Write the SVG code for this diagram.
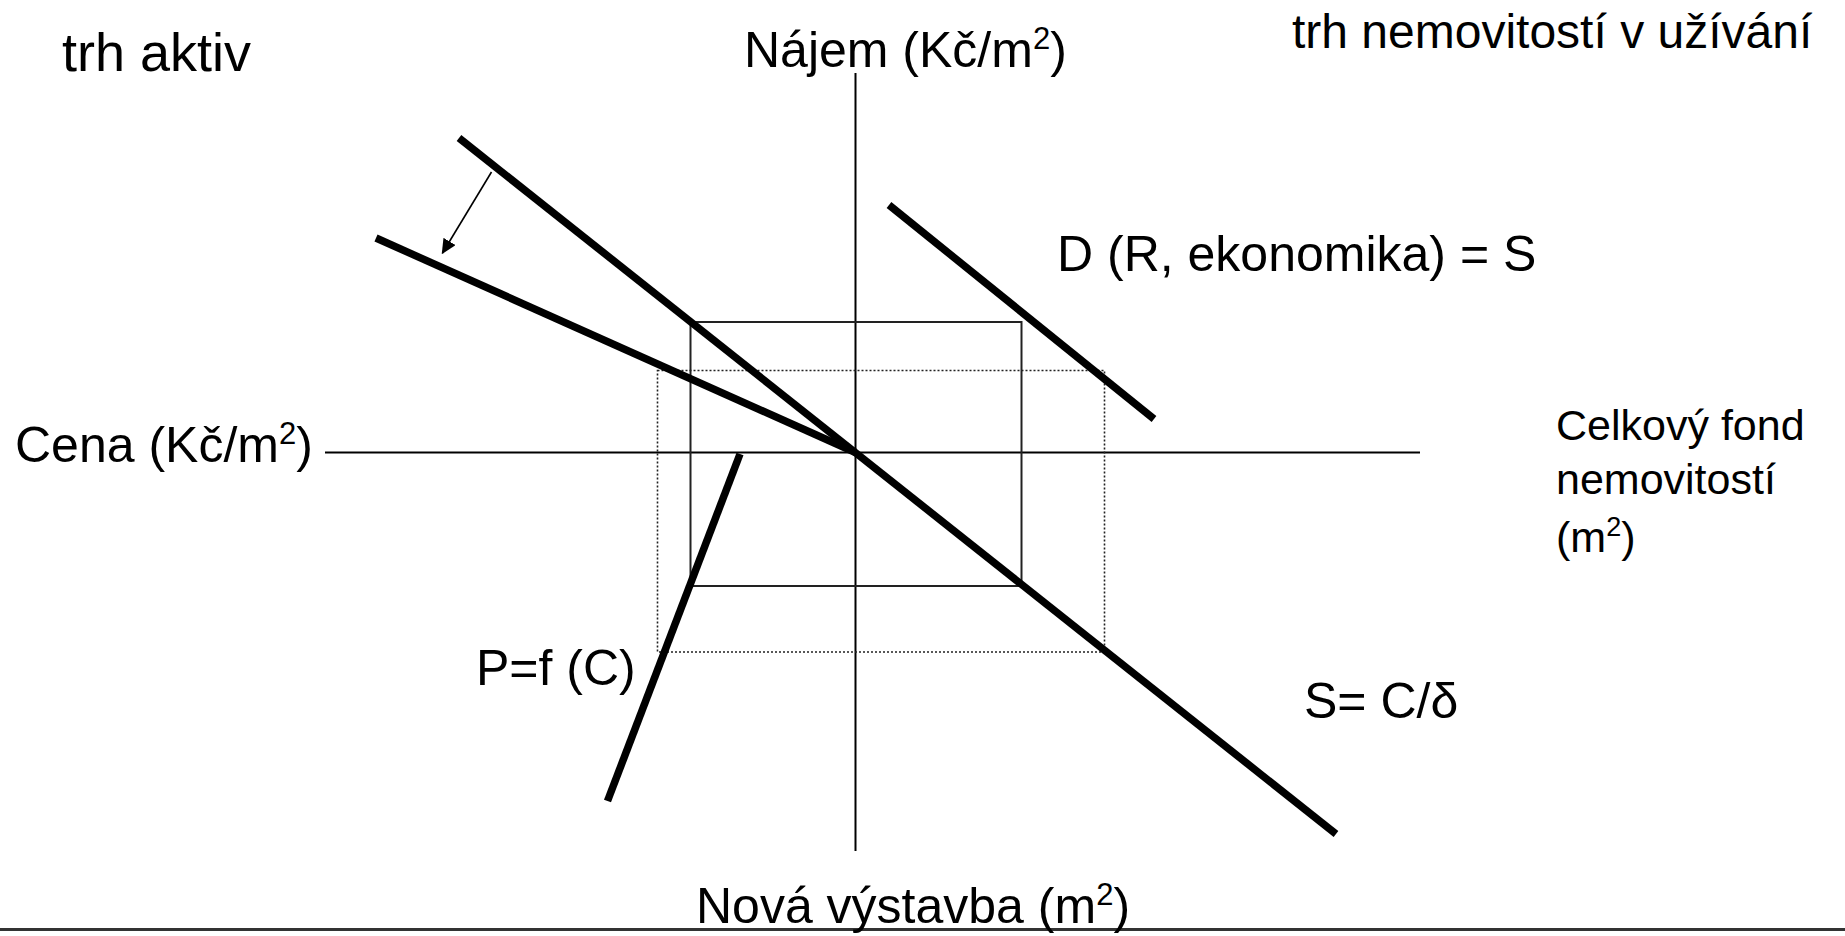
<svg xmlns="http://www.w3.org/2000/svg" width="1845" height="936" viewBox="0 0 1845 936">
  <style>
    text { font-family: "Liberation Sans", Arial, sans-serif; fill: #000; }
    .axis { stroke: #000; stroke-width: 2; fill: none; }
    .thick { stroke: #000; stroke-width: 7.5; fill: none; }
    .box { stroke: #222; stroke-width: 2; fill: none; }
    .dot { stroke: #222; stroke-width: 1.6; fill: none; stroke-dasharray: 2 2; }
    .thin { stroke: #000; stroke-width: 1.6; fill: none; }
  </style>
  <defs>
    <marker id="ah" viewBox="0 0 10 10" refX="9" refY="5" markerWidth="15" markerHeight="14" markerUnits="userSpaceOnUse" orient="auto" preserveAspectRatio="none">
      <path d="M0,0 L10,5 L0,10 z" fill="#000"/>
    </marker>
  </defs>
  <rect width="1845" height="936" fill="#fff"/>

  <g id="connectors">
    <line class="axis" x1="855.5" y1="73" x2="855.5" y2="851"/>
    <line class="axis" x1="325" y1="452.5" x2="1420" y2="452.5"/>
    <rect class="box" x="690.5" y="322" width="331" height="264"/>
    <rect class="dot" x="657.5" y="370.5" width="447" height="281.5"/>
    <line class="thick" x1="459" y1="138" x2="1336" y2="834"/>
    <line class="thick" x1="376" y1="238" x2="855.5" y2="452.5"/>
    <line class="thick" x1="889" y1="205" x2="1154" y2="419"/>
    <line class="thick" x1="740" y1="454" x2="607.5" y2="801"/>
    <line class="thin" x1="491.5" y1="172" x2="442.5" y2="253" marker-end="url(#ah)"/>
    <line x1="0" y1="929.5" x2="1845" y2="929.5" stroke="#333" stroke-width="3"/>
  </g>

  <g id="label-trh-aktiv"><text x="62" y="71" font-size="54">trh aktiv</text></g>
  <g id="label-najem"><text x="744" y="67" font-size="50">Nájem (Kč/m<tspan font-size="31" dy="-18">2</tspan><tspan dy="18">)</tspan></text></g>
  <g id="label-trh-nemovitosti"><text x="1292" y="48" font-size="48">trh nemovitostí v užívání</text></g>
  <g id="label-d"><text x="1057" y="271" font-size="50">D (R, ekonomika) = S</text></g>
  <g id="label-cena"><text x="15" y="462" font-size="50">Cena (Kč/m<tspan font-size="31" dy="-18">2</tspan><tspan dy="18">)</tspan></text></g>
  <g id="label-celkovy-fond">
    <text x="1556" y="440" font-size="43">Celkový fond</text>
    <text x="1556" y="494" font-size="43">nemovitostí</text>
    <text x="1556" y="552" font-size="43">(m<tspan font-size="27" dy="-16">2</tspan><tspan dy="16">)</tspan></text>
  </g>
  <g id="label-pfc"><text x="476" y="685" font-size="50">P=f (C)</text></g>
  <g id="label-s"><text x="1304" y="718" font-size="50">S= C/δ</text></g>
  <g id="label-nova-vystavba"><text x="696" y="923" font-size="50">Nová výstavba (m<tspan font-size="31" dy="-18">2</tspan><tspan dy="18">)</tspan></text></g>
</svg>
